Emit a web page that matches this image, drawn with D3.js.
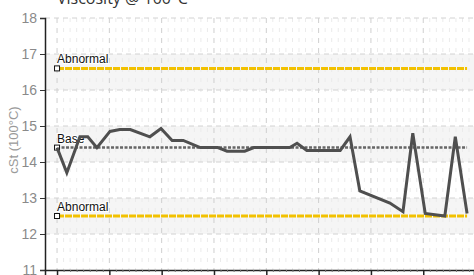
<!DOCTYPE html>
<html>
<head>
<meta charset="utf-8">
<script src="https://cdn.jsdelivr.net/npm/d3@7"></script>
<style>
  body { margin: 0; background: #fff; }
  svg { display: block; }
  .tick text { font-family: "Liberation Sans Narrow", "Liberation Sans", Arial, sans-serif; }
</style>
</head>
<body>
<div id="chart"></div>
<script>
// sample position (in days) and viscosity readings
var sampleDays = [0, 1.5, 3.5, 4.7, 6.1, 8.1, 9.6, 11.2, 14.2, 15.9, 17.6, 19.3, 21.9, 24.6, 26.0,
    28.7, 30.1, 35.6, 36.7, 38.2, 43.3, 44.8, 46.3, 50.9, 52.9, 54.4, 56.3, 59.3, 60.9, 62.7];
var viscosity = [14.4, 13.7, 14.7, 14.7, 14.4, 14.85, 14.9, 14.9, 14.7, 14.93, 14.6, 14.6, 14.4, 14.4, 14.3,
    14.3, 14.4, 14.4, 14.52, 14.32, 14.32, 14.7, 13.2, 12.86, 12.62, 14.8, 12.57, 12.5, 14.7, 12.57];

// limit lines
var limitValues = [16.6, 14.4, 12.5];
var limitLabels = ['Abnormal', 'Base', 'Abnormal'];
var limitColors = ['#f2c100', '#666666', '#f2c100'];

var yTicks = [11, 12, 13, 14, 15, 16, 17, 18];
var titleText = 'Viscosity @ 100°C';
var yLabel = 'cSt (100°C)';

var W = 474, H = 275;
var margin = {top: 18, right: 0, bottom: 5, left: 45};

var svg = d3.select('#chart').append('svg')
    .attr('width', W)
    .attr('height', H);

// x: 8 days per major tick
var x = d3.scaleLinear()
    .domain([-1.84, 63.76])
    .range([margin.left, W - margin.right]);

var y = d3.scaleLinear()
    .domain([11, 18])
    .range([H - margin.bottom, margin.top]);

// shaded bands
var bands = [[16, 17], [14, 15], [12, 13]];
svg.append('g').selectAll('rect')
    .data(bands)
    .enter().append('rect')
    .attr('x', margin.left)
    .attr('width', W - margin.left)
    .attr('y', function (d) { return y(d[1]); })
    .attr('height', function (d) { return y(d[0]) - y(d[1]); })
    .attr('fill', '#f5f5f5');

// minor vertical grid
var minor = d3.range(0, 64, 1).filter(function (d) { return d % 8 !== 0; });
svg.append('g').selectAll('line')
    .data(minor)
    .enter().append('line')
    .attr('x1', function (d) { return x(d); })
    .attr('x2', function (d) { return x(d); })
    .attr('y1', y(18))
    .attr('y2', y(11))
    .attr('stroke', '#ebebeb')
    .attr('stroke-dasharray', '4,6');

var major = d3.range(0, 64, 8);
svg.append('g').selectAll('line')
    .data(major)
    .enter().append('line')
    .attr('x1', function (d) { return x(d); })
    .attr('x2', function (d) { return x(d); })
    .attr('y1', y(18))
    .attr('y2', y(11))
    .attr('stroke', '#cfcfcf')
    .attr('stroke-dasharray', '5,5');

// horizontal grid
svg.append('g').selectAll('line')
    .data(yTicks.slice(1))
    .enter().append('line')
    .attr('x1', margin.left)
    .attr('x2', W)
    .attr('y1', function (d) { return y(d); })
    .attr('y2', function (d) { return y(d); })
    .attr('stroke', '#d2d2d2')
    .attr('stroke-dasharray', '5,4');

// limit lines
var x0 = sampleDays[0], x1 = sampleDays[sampleDays.length - 1];
var limits = svg.append('g');
limitValues.forEach(function (v, i) {
    limits.append('line')
        .attr('x1', x(x0))
        .attr('x2', x(x1))
        .attr('y1', y(v))
        .attr('y2', y(v))
        .attr('stroke', limitColors[i])
        .attr('stroke-width', i === 1 ? 2.5 : 3)
        .attr('stroke-dasharray', i === 1 ? '3,1.5' : '7,1');
});

// data line
var line = d3.line()
    .x(function (d, i) { return x(sampleDays[i]); })
    .y(function (d) { return y(d); });

svg.append('path')
    .datum(viscosity)
    .attr('d', line)
    .attr('fill', 'none')
    .attr('stroke', '#4f4f4f')
    .attr('stroke-width', 3)
    .attr('stroke-linejoin', 'miter');

// limit labels & markers
limitValues.forEach(function (v, i) {
    limits.append('text')
        .attr('x', x(x0))
        .attr('y', y(v) - 5)
        .attr('font-family', '"Liberation Sans Narrow", "Liberation Sans", sans-serif')
        .attr('font-size', 12)
        .attr('fill', '#111')
        .attr('stroke', '#fff')
        .attr('stroke-width', 2)
        .attr('paint-order', 'stroke')
        .text(limitLabels[i]);
    limits.append('rect')
        .attr('x', x(x0) - 2.5)
        .attr('y', y(v) - 2.5)
        .attr('width', 5)
        .attr('height', 5)
        .attr('fill', '#fff')
        .attr('stroke', '#111')
        .attr('stroke-width', 1);
});

// axes
var yAxis = d3.axisLeft(y).tickValues(yTicks).tickSize(5).tickPadding(3).tickFormat(d3.format('d'));
var gy = svg.append('g')
    .attr('transform', 'translate(' + margin.left + ',0)')
    .call(yAxis);
gy.select('.domain').attr('stroke', '#222').attr('stroke-width', 1.5);
gy.selectAll('.tick line').attr('stroke', '#333');
gy.selectAll('.tick text').attr('font-size', 14).attr('fill', '#8a8a8a');

var xAxis = d3.axisBottom(x).tickValues(major).tickSize(5).tickFormat('');
var gx = svg.append('g')
    .attr('transform', 'translate(0,' + y(11) + ')')
    .call(xAxis);
gx.select('.domain').attr('stroke', '#222').attr('stroke-width', 1.5);
gx.selectAll('.tick line').attr('stroke', '#222').attr('stroke-width', 1.5);

var xMinorAxis = d3.axisBottom(x).tickValues(minor).tickSize(2).tickFormat('');
var gxm = svg.append('g')
    .attr('transform', 'translate(0,' + y(11) + ')')
    .call(xMinorAxis);
gxm.select('.domain').remove();
gxm.selectAll('.tick line').attr('stroke', '#777');

// titles
svg.append('text')
    .attr('x', 57)
    .attr('y', 4)
    .attr('font-family', '"Open Sans", "DejaVu Sans", sans-serif')
    .attr('font-size', 16)
    .attr('fill', '#333')
    .text(titleText);

svg.append('text')
    .attr('transform', 'translate(18,' + 140 + ') rotate(-90)')
    .attr('text-anchor', 'middle')
    .attr('font-family', '"Liberation Sans Narrow", "Liberation Sans", sans-serif')
    .attr('font-size', 13)
    .attr('fill', '#9a9a9a')
    .text(yLabel);
</script>
</body>
</html>
